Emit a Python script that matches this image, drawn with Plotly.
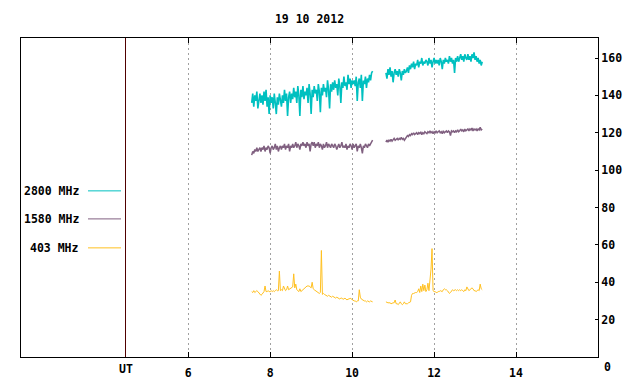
import plotly.graph_objects as go

# ---------------- data ----------------
title_text = "19 10 2012"
series_names = ["2800 MHz", "1580 MHz", "403 MHz"]
series_colors = ["#00c0c0", "#806080", "#ffc020"]

# time grids (UT hours)
seg1_start, seg1_step = 7.55, 0.025
seg2_start, seg2_step = 10.825, 0.025

flux_2800_seg1 = [
    136, 141, 134, 140, 137, 142, 133, 139, 141, 136,
    140, 135, 142, 137, 143, 134, 139, 130, 140, 136,
    139, 133, 141, 136, 130, 139, 135, 141, 137, 134,
    140, 136, 143, 137, 141, 129, 139, 142, 136, 141,
    138, 144, 139, 142, 136, 145, 140, 129, 143, 139,
    145, 138, 142, 140, 144, 136, 146, 141, 130, 143,
    139, 145, 141, 143, 137, 146, 142, 131, 144, 140,
    146, 142, 144, 139, 148, 143, 133, 146, 142, 147,
    143, 148, 144, 146, 140, 149, 145, 136, 147, 144,
    150, 145, 147, 143, 151, 146, 149, 144, 148, 146,
    148, 145, 150, 137, 147, 149, 144, 151, 137, 148,
    146, 150, 144, 149, 147, 151, 148, 152, 153,
]
flux_2800_seg2 = [
    152, 149, 154, 151, 155, 150, 153, 147, 152, 154,
    151, 153, 150, 154, 152, 148, 153, 151, 154, 152,
    153, 155, 152, 156, 154, 157, 155, 158, 154, 157,
    156, 159, 155, 158, 157, 160, 156, 158, 157, 159,
    158, 156, 160, 157, 159, 155, 158, 160, 157, 159,
    157, 159, 156, 160, 158, 154, 159, 157, 160, 158,
    159, 157, 161, 158, 160, 157, 159, 152, 160, 158,
    161, 158, 160, 162, 159, 161, 158, 162, 160, 159,
    162, 159, 161, 158, 162, 160, 163, 159, 161, 158,
    160, 157, 159, 156, 158,
]

flux_1580_seg1 = [
    108, 110, 109, 111, 110, 112, 110, 111, 112, 110,
    112, 111, 113, 110, 112, 111, 113, 112, 109, 112,
    113, 111, 112, 114, 111, 113, 110, 112, 113, 111,
    113, 112, 114, 111, 113, 112, 114, 110, 113, 112,
    114, 112, 113, 115, 112, 114, 113, 111, 114, 113,
    115, 113, 114, 112, 115, 113, 114, 110, 114, 115,
    113, 115, 112, 114, 113, 115, 112, 114, 113, 111,
    114, 112, 113, 115, 112, 114, 113, 112, 114, 113,
    112, 114, 113, 111, 113, 114, 112, 113, 115, 112,
    113, 112, 114, 111, 113, 112, 114, 113, 111, 114,
    112, 113, 114, 110, 113, 112, 114, 112, 109, 113,
    112, 114, 113, 112, 114, 113, 114, 115, 116,
]
flux_1580_seg2 = [
    115, 116, 115, 116, 115.5, 116.5, 115.5, 116, 117, 116,
    116.5, 117, 116, 117, 116.5, 117.5, 116.5, 117, 116, 117,
    117.5, 118.5, 118, 119, 118.5, 119.5, 119, 120, 119, 119.5,
    120, 119, 120, 119.5, 120.5, 119, 120, 119.5, 120.5, 120,
    119.5, 120.5, 120, 121, 120, 120.5, 119.5, 120.5, 120, 121,
    120, 120.5, 121, 120, 120.5, 119.5, 121, 120, 120.5, 121,
    120, 121, 120.5, 118.5, 121, 120.5, 121, 120, 121, 120.5,
    121.5, 120.5, 121, 122, 121, 121.5, 120.5, 122, 121, 121.5,
    122, 121, 122, 121.5, 122.5, 121, 122, 121.5, 122, 121,
    122, 121.5, 123, 121.5, 122,
]

flux_403_seg1 = [
    35, 34.5, 35.5, 34.5, 35, 35.5, 35, 34.5, 33.5, 33,
    33.5, 34.5, 35, 38, 35, 35, 35.5, 35, 35, 35.5,
    35, 35.5, 35, 35.5, 36, 35.5, 35.5, 46, 35.5, 36,
    35.5, 38, 36, 35.5, 36, 38, 36, 36.5, 37, 37,
    37.5, 44.5, 37, 39, 36, 35.5, 35, 36.5, 35, 35.5,
    36, 36.5, 37.5, 38, 38, 38, 38, 37.5, 37, 40,
    36.5, 36, 35.5, 35, 34.5, 34, 34, 34.5, 57, 33.5,
    34, 33.5, 33, 33, 32.5, 33, 32.5, 32.5, 32, 32.5,
    32, 32, 31.5, 32, 31.5, 31.5, 31, 31.5, 31.5, 31,
    31, 31.5, 31, 30.5, 31, 31, 31.5, 31, 30.5, 30.5,
    30, 30, 29.5, 30, 30, 36, 32, 31, 30.5, 30,
    30, 30, 29.5, 30, 29.5, 29.5, 30, 29.5, 29.5,
]
flux_403_seg2 = [
    29.5, 29, 29, 29, 29, 28.5, 29, 29, 29, 30.5,
    28.5, 28.5, 28, 28.5, 29.5, 28.5, 28, 28.5, 29.5, 28.5,
    28.5, 28.5, 29, 29.5, 29.5, 33, 34, 34, 34.5, 34.5,
    34.5, 35, 36.5, 34.5, 38, 35, 39, 35.5, 38.5, 35,
    36, 39.5, 35.5, 40, 47, 58, 35.5, 35, 35, 34.5,
    34.5, 35, 35, 35.5, 35, 35, 36, 36.5, 36, 36,
    35.5, 35, 34, 34.5, 35.5, 36, 35.5, 36, 36, 35.5,
    36, 35.5, 36, 35.5, 36, 35.5, 35, 36, 35.5, 37.5,
    36, 35.5, 36, 36.5, 37, 36.5, 35.5, 35.5, 35, 35.5,
    36, 35.5, 39, 36.5, 36,
]

x_tick_vals = [6, 8, 10, 12, 14]
x_tick_text = ["6", "8", "10", "12", "14"]
y_tick_vals = [0, 20, 40, 60, 80, 100, 120, 140, 160]
y_tick_text = ["", "20", "40", "60", "80", "100", "120", "140", "160"]
ut_hour = 4.47
x_range = [1.92, 16.0]
y_range = [0, 170.7]


def grid(start, step, n):
    return [round(start + i * step, 4) for i in range(n)]


def join(t1, v1, t2, v2):
    return t1 + [None] + t2, v1 + [None] + v2


FONT = "DejaVu Sans Mono"
fsize = 11.5
W, H = 632, 376   # page body adds an 8 px margin

fig = go.Figure()

series = [
    (flux_2800_seg1, flux_2800_seg2, 1.6),
    (flux_1580_seg1, flux_1580_seg2, 1.5),
    (flux_403_seg1, flux_403_seg2, 1.0),
]
for name, color, (s1, s2, lw) in zip(series_names, series_colors, series):
    t, v = join(grid(seg1_start, seg1_step, len(s1)), s1,
                grid(seg2_start, seg2_step, len(s2)), s2)
    fig.add_trace(go.Scatter(x=t, y=v, mode="lines", name=name,
                             line=dict(color=color, width=lw), connectgaps=False,
                             hoverinfo="skip"))

# UT separator line
fig.add_shape(type="line", xref="x", yref="paper", x0=ut_hour, x1=ut_hour, y0=0, y1=1,
              line=dict(color="#500000", width=1))

annotations = [
    dict(text="UT", xref="x", yref="paper", x=ut_hour, y=0, yshift=-12,
         yanchor="middle", xanchor="center", showarrow=False,
         font=dict(family=FONT, size=fsize, color="black", weight="bold")),
    dict(text="0", xref="paper", yref="paper", x=1, y=0, xshift=4, yshift=-10,
         xanchor="left", yanchor="middle", showarrow=False,
         font=dict(family=FONT, size=fsize, color="black", weight="bold")),
]

# manual gnuplot-style legend (text left of sample line)
legend_y = [88.9, 73.9, 58.4]
for name, color, ly in zip(series_names, series_colors, legend_y):
    annotations.append(dict(text=name, xref="x", yref="y", x=3.39, y=ly,
                            xanchor="right", yanchor="middle", showarrow=False,
                            font=dict(family=FONT, size=fsize, color="black", weight="bold")))
    fig.add_shape(type="line", xref="x", yref="y", x0=3.555, x1=4.36, y0=ly, y1=ly,
                  line=dict(color=color, width=1))

fig.update_layout(
    width=W, height=H,
    margin=dict(l=13, r=42, t=30, b=27),
    plot_bgcolor="white", paper_bgcolor="white",
    showlegend=False,
    title=dict(text=title_text, x=0.5, xref="paper", y=1 - 11 / H, yref="container",
               xanchor="center", yanchor="middle",
               font=dict(family=FONT, size=fsize, color="black", weight="bold")),
    annotations=annotations,
    xaxis=dict(range=x_range, tickvals=x_tick_vals, ticktext=x_tick_text,
               ticks="inside", ticklen=5, tickcolor="black", tickwidth=1,
               showline=True, linecolor="black", linewidth=1, mirror="ticks",
               showgrid=True, gridcolor="#a0a0a0", griddash="2px,3px", gridwidth=1,
               zeroline=False, ticklabelstandoff=5, automargin=False,
               tickfont=dict(family=FONT, size=fsize, color="black", weight="bold")),
    yaxis=dict(range=y_range, side="right", tickvals=y_tick_vals, ticktext=y_tick_text,
               ticks="inside", ticklen=3, tickcolor="black", tickwidth=1,
               showline=True, linecolor="black", linewidth=1, mirror=True,
               showgrid=False, zeroline=False, automargin=False,
               tickfont=dict(family=FONT, size=fsize, color="black", weight="bold")),
)

fig.write_html("out.html")
